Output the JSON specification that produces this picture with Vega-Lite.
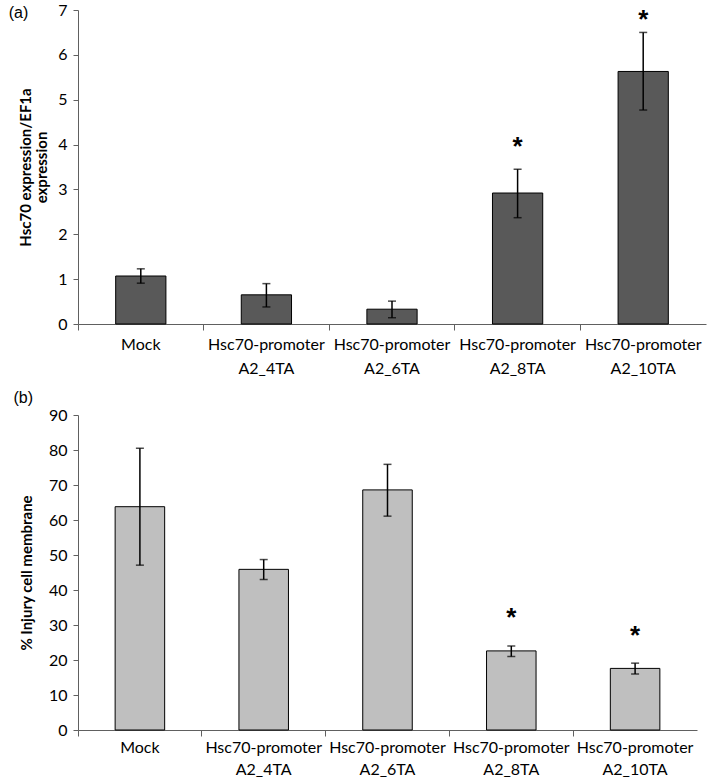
{
  "$schema": "https://vega.github.io/schema/vega-lite/v6.json",
  "padding": {"left": 8, "top": 2, "right": 5, "bottom": 0},
  "config": {
    "view": {"stroke": null},
    "font": "Lato",
    "axis": {"labelFont": "Lato", "labelFontSize": 16, "labelColor": "#000", "titleFont": "Lato", "titleFontSize": 15, "titleColor": "#000", "domainColor": "#606060", "tickColor": "#606060", "grid": false, "labelOverlap": false},
    "title": {"font": "Liberation Sans", "fontSize": 16, "fontWeight": "normal", "color": "#000"},
    "concat": {"spacing": 14}
  },
  "datasets": {
    "a": [
      {"cat": "Mock", "value": 1.07, "lo": 0.91, "hi": 1.23, "sig": null},
      {"cat": "Hsc70-promoter|A2_4TA", "value": 0.65, "lo": 0.38, "hi": 0.90, "sig": null},
      {"cat": "Hsc70-promoter|A2_6TA", "value": 0.33, "lo": 0.14, "hi": 0.51, "sig": null},
      {"cat": "Hsc70-promoter|A2_8TA", "value": 2.92, "lo": 2.37, "hi": 3.45, "sig": 4.08},
      {"cat": "Hsc70-promoter|A2_10TA", "value": 5.63, "lo": 4.77, "hi": 6.50, "sig": 6.92}
    ],
    "b": [
      {"cat": "Mock", "value": 63.8, "lo": 47.1, "hi": 80.5, "sig": null},
      {"cat": "Hsc70-promoter|A2_4TA", "value": 45.9, "lo": 43.0, "hi": 48.7, "sig": null},
      {"cat": "Hsc70-promoter|A2_6TA", "value": 68.6, "lo": 61.1, "hi": 75.9, "sig": null},
      {"cat": "Hsc70-promoter|A2_8TA", "value": 22.6, "lo": 21.0, "hi": 24.0, "sig": 33.6},
      {"cat": "Hsc70-promoter|A2_10TA", "value": 17.6, "lo": 16.0, "hi": 19.1, "sig": 28.6}
    ]
  },
  "vconcat": [
    {
      "title": {"text": "(a)", "anchor": "start", "frame": "bounds", "offset": -19, "dx": -10},
      "width": 628,
      "height": 314,
      "data": {"name": "a"},
      "encoding": {
        "x": {"field": "cat", "type": "nominal", "sort": null,
              "scale": {"paddingInner": 0, "paddingOuter": 0},
              "axis": {"title": null, "labelAngle": 0, "bandPosition": 0, "tickSize": 6, "labelPadding": 6, "labelLineHeight": 24, "labelExpr": "split(datum.label, '|')"}}
      },
      "layer": [
        {
          "mark": {"type": "bar", "width": {"band": 0.4}, "fill": "#595959", "stroke": "#000", "strokeWidth": 1},
          "encoding": {
            "y": {"field": "value", "type": "quantitative", "scale": {"domain": [0, 7], "nice": false},
                  "axis": {"title": ["Hsc70 expression/EF1a", "expression"], "titleFontWeight": "bold", "values": [0,1,2,3,4,5,6,7], "tickSize": 5, "labelPadding": 6, "titlePadding": 8, "titleLineHeight": 16}}
          }
        },
        {
          "mark": {"type": "rule", "color": "#000", "strokeWidth": 1.5},
          "encoding": {"y": {"field": "lo", "type": "quantitative", "axis": {"title": ["Hsc70 expression/EF1a", "expression"], "titleFontWeight": "bold", "values": [0,1,2,3,4,5,6,7], "tickSize": 5, "labelPadding": 6, "titlePadding": 8, "titleLineHeight": 16}}, "y2": {"field": "hi"}}
        },
        {
          "mark": {"type": "tick", "color": "#000", "size": 8, "thickness": 1.5, "orient": "horizontal"},
          "encoding": {"y": {"field": "lo", "type": "quantitative", "axis": {"title": ["Hsc70 expression/EF1a", "expression"], "titleFontWeight": "bold", "values": [0,1,2,3,4,5,6,7], "tickSize": 5, "labelPadding": 6, "titlePadding": 8, "titleLineHeight": 16}}}
        },
        {
          "mark": {"type": "tick", "color": "#000", "size": 8, "thickness": 1.5, "orient": "horizontal"},
          "encoding": {"y": {"field": "hi", "type": "quantitative", "axis": {"title": ["Hsc70 expression/EF1a", "expression"], "titleFontWeight": "bold", "values": [0,1,2,3,4,5,6,7], "tickSize": 5, "labelPadding": 6, "titlePadding": 8, "titleLineHeight": 16}}}
        },
        {
          "transform": [{"filter": "datum.sig != null"}],
          "mark": {"type": "text", "text": "*", "fontSize": 26, "fontWeight": "bold", "font": "Liberation Sans", "baseline": "middle", "dy": 6},
          "encoding": {"y": {"field": "sig", "type": "quantitative", "axis": {"title": ["Hsc70 expression/EF1a", "expression"], "titleFontWeight": "bold", "values": [0,1,2,3,4,5,6,7], "tickSize": 5, "labelPadding": 6, "titlePadding": 8, "titleLineHeight": 16}}}
        }
      ]
    },
    {
      "title": {"text": "(b)", "anchor": "start", "frame": "bounds", "offset": 1, "dx": -6},
      "width": 619,
      "height": 315,
      "data": {"name": "b"},
      "encoding": {
        "x": {"field": "cat", "type": "nominal", "sort": null,
              "scale": {"paddingInner": 0, "paddingOuter": 0},
              "axis": {"title": null, "labelAngle": 0, "bandPosition": 0, "tickSize": 6, "labelPadding": 3, "labelLineHeight": 22, "labelExpr": "split(datum.label, '|')"}}
      },
      "layer": [
        {
          "mark": {"type": "bar", "width": {"band": 0.4}, "fill": "#bfbfbf", "stroke": "#000", "strokeWidth": 1},
          "encoding": {
            "y": {"field": "value", "type": "quantitative", "scale": {"domain": [0, 90], "nice": false},
                  "axis": {"title": "% Injury cell membrane", "titleFontWeight": "bold", "values": [0,10,20,30,40,50,60,70,80,90], "tickSize": 5, "labelPadding": 6, "titlePadding": 14}}
          }
        },
        {
          "mark": {"type": "rule", "color": "#000", "strokeWidth": 1.5},
          "encoding": {"y": {"field": "lo", "type": "quantitative", "axis": {"title": "% Injury cell membrane", "titleFontWeight": "bold", "values": [0,10,20,30,40,50,60,70,80,90], "tickSize": 5, "labelPadding": 6, "titlePadding": 14}}, "y2": {"field": "hi"}}
        },
        {
          "mark": {"type": "tick", "color": "#000", "size": 8, "thickness": 1.5, "orient": "horizontal"},
          "encoding": {"y": {"field": "lo", "type": "quantitative", "axis": {"title": "% Injury cell membrane", "titleFontWeight": "bold", "values": [0,10,20,30,40,50,60,70,80,90], "tickSize": 5, "labelPadding": 6, "titlePadding": 14}}}
        },
        {
          "mark": {"type": "tick", "color": "#000", "size": 8, "thickness": 1.5, "orient": "horizontal"},
          "encoding": {"y": {"field": "hi", "type": "quantitative", "axis": {"title": "% Injury cell membrane", "titleFontWeight": "bold", "values": [0,10,20,30,40,50,60,70,80,90], "tickSize": 5, "labelPadding": 6, "titlePadding": 14}}}
        },
        {
          "transform": [{"filter": "datum.sig != null"}],
          "mark": {"type": "text", "text": "*", "fontSize": 26, "fontWeight": "bold", "font": "Liberation Sans", "baseline": "middle", "dy": 6},
          "encoding": {"y": {"field": "sig", "type": "quantitative", "axis": {"title": "% Injury cell membrane", "titleFontWeight": "bold", "values": [0,10,20,30,40,50,60,70,80,90], "tickSize": 5, "labelPadding": 6, "titlePadding": 14}}}
        }
      ]
    }
  ]
}
